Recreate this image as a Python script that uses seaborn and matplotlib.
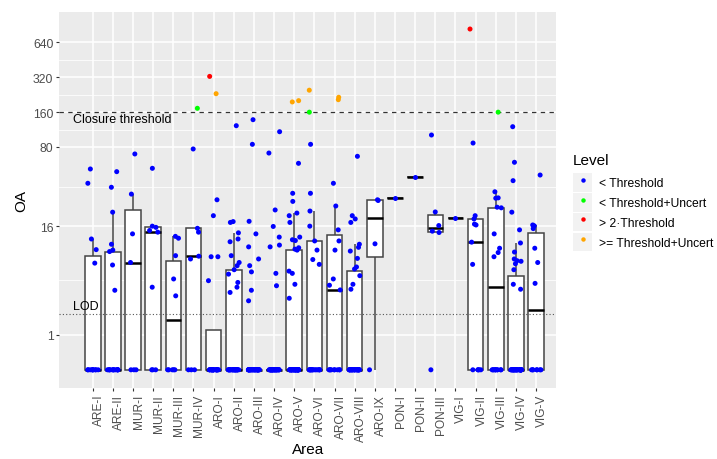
import numpy as np
import pandas as pd
import matplotlib
matplotlib.use("Agg")
import matplotlib.pyplot as plt
import seaborn as sns
from matplotlib.lines import Line2D
from matplotlib.patches import Rectangle
from matplotlib.legend_handler import HandlerTuple

areas = ["ARE-I", "ARE-II", "MUR-I", "MUR-II", "MUR-III", "MUR-IV",
         "ARO-I", "ARO-II", "ARO-III", "ARO-IV", "ARO-V", "ARO-VI",
         "ARO-VII", "ARO-VIII", "ARO-IX", "PON-I", "PON-II", "PON-III",
         "VIG-I", "VIG-II", "VIG-III", "VIG-IV", "VIG-V"]

# number of samples at 0 (not detected) in each area
zero_counts = [10, 13, 3, 3, 5, 3, 21, 23, 32, 29, 35, 15,
               9, 25, 1, 0, 0, 1, 0, 5, 10, 33, 7]

# detected OA values in each area
detected = [
    [7.2, 9.7, 12.2, 38.6, 51.5],
    [3.8, 6.9, 9.3, 9.6, 10.9, 21.4, 35.6, 48.8],
    [7.3, 13.6, 31.0, 69.6],
    [4.1, 14.1, 14.6, 15.6, 16.0, 52.2],
    [3.3, 5.0, 8.5, 12.4, 12.9],
    [7.9, 8.4, 14.1, 15.3, 76.9, 172.8],
    [4.8, 8.3, 8.3, 19.9, 27.6, 230.8, 325.0],
    [3.6, 4.1, 4.6, 5.6, 6.2, 6.8, 7.3, 8.5, 11.5, 12.2, 13.9, 17.3, 17.6, 122.3],
    [2.9, 3.8, 5.9, 6.8, 7.9, 10.3, 13.6, 17.7, 84.4, 137.8],
    [4.25, 5.7, 10.3, 10.7, 12.7, 15.9, 22.4, 70.9, 108.5],
    [3.1, 4.4, 5.7, 6.0, 9.6, 9.8, 10.1, 11.8, 12.0, 12.7, 17.3, 19.9, 21.0,
     26.7, 31.5, 57.7, 196.0, 201.0],
    [7.0, 7.8, 9.6, 11.7, 16.0, 21.9, 31.5, 84.4, 160.0, 247.4],
    [3.83, 4.3, 5.0, 9.6, 11.7, 14.8, 24.3, 38.6, 205.0, 215.0],
    [3.9, 4.4, 5.4, 6.3, 6.6, 8.0, 9.4, 10.2, 10.9, 17.3, 18.6, 19.9, 66.4],
    [11.0, 27.2, 27.6],
    [28.8],
    [43.6],
    [14.0, 14.4, 16.2, 21.5, 101.6],
    [18.9],
    [7.0, 11.4, 16.4, 16.7, 18.6, 19.9, 86.6, 829.0],
    [8.3, 9.1, 10.0, 13.6, 23.4, 23.7, 28.5, 28.7, 32.5, 160.0],
    [3.9, 4.4, 6.2, 7.1, 7.5, 7.6, 7.9, 9.2, 11.2, 14.8, 21.4, 40.7, 58.9, 119.9],
    [4.5, 7.3, 10.0, 15.2, 16.1, 16.4, 45.6],
]

THRESHOLD = 160
UNCERT = 30
LOD = 2

levels = ["< Threshold", "< Threshold+Uncert", "> 2\u00b7Threshold", ">= Threshold+Uncert"]
level_colors = ["#0000FF", "#00FF00", "#FF0000", "#FFA500"]
yticks = [1, 16, 80, 160, 320, 640]


def classify(v):
    if v > 2 * THRESHOLD:
        return levels[2]
    if v >= THRESHOLD + UNCERT:
        return levels[3]
    if v >= THRESHOLD:
        return levels[1]
    return levels[0]


rows = []
for area, n0, vals in zip(areas, zero_counts, detected):
    for v in [0.0] * n0 + vals:
        rows.append((area, v))
df = pd.DataFrame(rows, columns=["Area", "OA"])
df["Level"] = df["OA"].apply(classify)

plt.rcParams["font.family"] = ["Liberation Sans", "DejaVu Sans"]
fig = plt.figure(figsize=(7.17, 4.60), dpi=100)
ax = fig.add_axes([59.3 / 717, 1 - 389 / 460, (556 - 59.3) / 717, (389 - 12.7) / 460])
ax.set_facecolor("#EBEBEB")

sns.boxplot(data=df, x="Area", y="OA", order=areas, ax=ax, width=0.77,
            color="white", saturation=1, linecolor="#444444", linewidth=1.1,
            showfliers=False, showcaps=False,
            medianprops={"color": "black", "linewidth": 1.8})

ax.axhline(THRESHOLD, color="#333333", lw=0.9, ls=(0, (3.5, 3.5)), zorder=2.5)
ax.axhline(LOD, color="#555555", lw=0.8, ls=(0, (1, 2)), zorder=2.5)

np.random.seed(7)
sns.stripplot(data=df, x="Area", y="OA", order=areas, hue="Level",
              hue_order=levels, palette=dict(zip(levels, level_colors)),
              jitter=0.28, size=3.6, linewidth=0, ax=ax, legend=False, zorder=3)

ax.set_yscale("function", functions=(np.log1p, np.expm1))
ax.set_ylim(np.expm1(-0.359), np.expm1(7.063))
ax.set_xlim(-1.66, 22.99)

ax.set_yticks(yticks)
ax.set_yticklabels([str(t) for t in yticks])
t = np.log1p(yticks)
ax.set_yticks(np.expm1((t[:-1] + t[1:]) / 2), minor=True)

ax.set_axisbelow(True)
ax.grid(which="major", color="white", lw=1.1)
ax.grid(which="minor", axis="y", color="white", lw=0.55)
for s in ax.spines.values():
    s.set_visible(False)
ax.tick_params(which="major", color="#333333", length=2.2, width=0.8,
               labelcolor="#4D4D4D", labelsize=8.8, pad=2)
ax.tick_params(axis="x", labelsize=8.6)
ax.tick_params(which="minor", length=0)
plt.setp(ax.get_xticklabels(), rotation=90, ha="left")

ax.annotate("Closure threshold", xy=(-1.0, THRESHOLD), xytext=(0, -0.5),
            textcoords="offset points", ha="left", va="top", fontsize=9)
ax.annotate("LOD", xy=(-1.0, LOD), xytext=(0, 1.5),
            textcoords="offset points", ha="left", va="bottom", fontsize=9)

ax.set_xlabel("Area", fontsize=11, labelpad=0.5)
ax.set_ylabel("OA", fontsize=11, labelpad=3.5)

handles = [(Rectangle((0, 0), 1, 1, facecolor="#F2F2F2", edgecolor="none"),
            Line2D([], [], marker="o", ls="", color=c, markersize=3.2, markeredgewidth=0))
           for c in level_colors]
leg = fig.legend(handles, levels, title="Level", loc="upper left",
                 bbox_to_anchor=(567 / 717, 1 - 148 / 460), frameon=False,
                 fontsize=8.7, title_fontsize=11, handlelength=1.6, handleheight=2.0,
                 handletextpad=0.55, labelspacing=0.09, borderpad=0,
                 alignment="left", handler_map={tuple: HandlerTuple(ndivide=1)})
leg._legend_box.sep = 4.5

fig.savefig("out.png", dpi=100)
